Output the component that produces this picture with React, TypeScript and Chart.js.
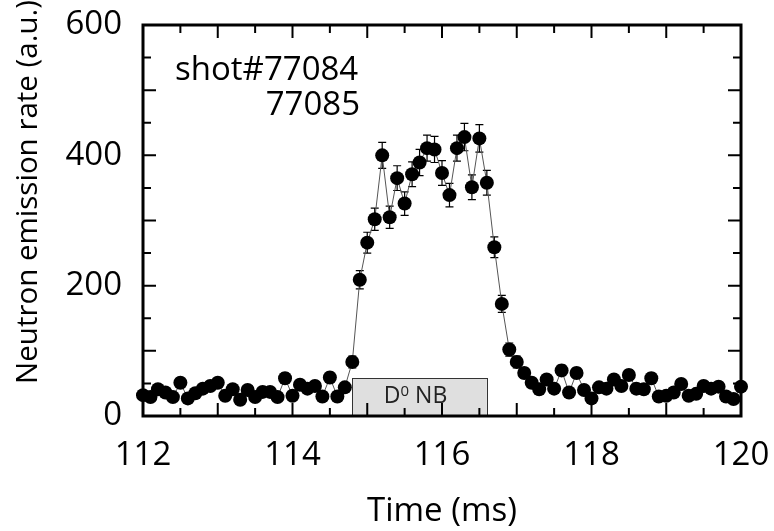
import React, { useEffect, useRef } from "react";
import { Chart, registerables } from "chart.js";

Chart.register(...registerables);

// ---- data ----
const times = [
  112.0, 112.1, 112.2, 112.3, 112.4, 112.5, 112.6, 112.7, 112.8, 112.9,
  113.0, 113.1, 113.2, 113.3, 113.4, 113.5, 113.6, 113.7, 113.8, 113.9,
  114.0, 114.1, 114.2, 114.3, 114.4, 114.5, 114.6, 114.7, 114.8, 114.9,
  115.0, 115.1, 115.2, 115.3, 115.4, 115.5, 115.6, 115.7, 115.8, 115.9,
  116.0, 116.1, 116.2, 116.3, 116.4, 116.5, 116.6, 116.7, 116.8, 116.9,
  117.0, 117.1, 117.2, 117.3, 117.4, 117.5, 117.6, 117.7, 117.8, 117.9,
  118.0, 118.1, 118.2, 118.3, 118.4, 118.5, 118.6, 118.7, 118.8, 118.9,
  119.0, 119.1, 119.2, 119.3, 119.4, 119.5, 119.6, 119.7, 119.8, 119.9,
  120.0,
];

const rates = [
  32, 29, 41, 36, 29, 51, 27, 35, 42, 46,
  51, 31, 41, 25, 40, 29, 37, 37, 29, 58,
  31, 48, 42, 46, 30, 59, 30, 44, 83, 209,
  266, 302, 400, 305, 365, 326, 371, 389, 411, 409,
  373, 339, 411, 428, 351, 426, 358, 259, 172, 102,
  83, 66, 51, 41, 56, 42, 70, 36, 66, 40,
  27, 44, 42, 56, 46, 63, 42, 41, 58, 30,
  31, 36, 49, 31, 34, 46, 42, 45, 30, 26,
  45,
];

const errors = [
  6, 5, 6, 6, 5, 7, 5, 6, 6, 7,
  7, 6, 6, 5, 6, 5, 6, 6, 5, 8,
  6, 7, 6, 7, 5, 8, 5, 7, 9, 14,
  16, 17, 20, 17, 19, 18, 19, 20, 20, 20,
  19, 18, 20, 21, 19, 21, 19, 16, 13, 10,
  9, 8, 7, 6, 7, 6, 8, 6, 8, 6,
  5, 7, 6, 7, 7, 8, 6, 6, 8, 5,
  6, 6, 7, 6, 6, 7, 6, 7, 5, 5,
  7,
];

const xTickValues = [112, 114, 116, 118, 120];
const yTickValues = [0, 200, 400, 600];
const shotLabels = ["shot#77084", "77085"];
const beamStart = 114.8;
const beamEnd = 116.6;
const beamLevel = 58;
const xTitle = "Time (ms)";
const yTitle = "Neutron emission rate (a.u.)";

const FONT = '"Open Sans", "DejaVu Sans", sans-serif';

const decorPlugin = {
  id: "decor",
  beforeDatasetsDraw(chart: any) {
    const { ctx, scales } = chart;
    const x = scales.x;
    const y = scales.y;
    ctx.save();
    // beam box
    const x0 = x.getPixelForValue(beamStart);
    const x1 = x.getPixelForValue(beamEnd);
    const y0 = y.getPixelForValue(0);
    const y1 = y.getPixelForValue(beamLevel);
    ctx.fillStyle = "#dfdfdf";
    ctx.fillRect(x0, y1, x1 - x0, y0 - y1);
    ctx.strokeStyle = "#333";
    ctx.lineWidth = 1;
    ctx.strokeRect(Math.round(x0) + 0.5, Math.round(y1) + 0.5, Math.round(x1 - x0), Math.round(y0 - y1));

    // "D0 NB" label with superscript
    const big = `23px ${FONT}`;
    const small = `15px ${FONT}`;
    ctx.fillStyle = "#222";
    ctx.textBaseline = "alphabetic";
    ctx.textAlign = "left";
    ctx.font = big;
    const wD = ctx.measureText("D").width;
    const wNB = ctx.measureText(" NB").width;
    ctx.font = small;
    const w0 = ctx.measureText("0").width;
    const total = wD + w0 + wNB;
    const cx = (x0 + x1) / 2 - 4;
    let sx = cx - total / 2;
    const base = y0 - 13;
    ctx.font = big;
    ctx.fillText("D", sx, base);
    sx += wD;
    ctx.font = small;
    ctx.fillText("0", sx, base - 7);
    sx += w0;
    ctx.font = big;
    ctx.fillText(" NB", sx, base);

    // error bars
    ctx.strokeStyle = "#000";
    ctx.lineWidth = 1.2;
    for (let i = 0; i < times.length; i++) {
      const px = x.getPixelForValue(times[i]);
      const yt = y.getPixelForValue(rates[i] + errors[i]);
      const yb = y.getPixelForValue(rates[i] - errors[i]);
      ctx.beginPath();
      ctx.moveTo(px, yt);
      ctx.lineTo(px, yb);
      ctx.moveTo(px - 4, yt);
      ctx.lineTo(px + 4, yt);
      ctx.moveTo(px - 4, yb);
      ctx.lineTo(px + 4, yb);
      ctx.stroke();
    }
    ctx.restore();
  },
  afterDatasetsDraw(chart: any) {
    const { ctx, chartArea: a, scales } = chart;
    const x = scales.x;
    const y = scales.y;
    ctx.save();
    ctx.strokeStyle = "#000";
    // ticks
    ctx.lineWidth = 2;
    ctx.beginPath();
    for (let v = x.min; v <= x.max + 1e-9; v += 0.5) {
      const px = x.getPixelForValue(v);
      const len = Math.abs(v - Math.round(v)) < 1e-6 ? 13 : 8;
      ctx.moveTo(px, a.bottom);
      ctx.lineTo(px, a.bottom - len);
      ctx.moveTo(px, a.top);
      ctx.lineTo(px, a.top + len);
    }
    for (let v = y.min; v <= y.max + 1e-9; v += 50) {
      const py = y.getPixelForValue(v);
      const len = v % 100 === 0 ? 13 : 8;
      ctx.moveTo(a.left, py);
      ctx.lineTo(a.left + len, py);
      ctx.moveTo(a.right, py);
      ctx.lineTo(a.right - len, py);
    }
    ctx.stroke();
    // frame
    ctx.lineWidth = 3;
    ctx.strokeRect(a.left, a.top, a.right - a.left, a.bottom - a.top);

    // shot labels
    ctx.fillStyle = "#000";
    ctx.font = `33px ${FONT}`;
    ctx.textBaseline = "alphabetic";
    ctx.textAlign = "left";
    ctx.fillText(shotLabels[0], a.left + 32, a.top + 55);
    ctx.textAlign = "right";
    ctx.fillText(shotLabels[1], a.left + 217, a.top + 90);

    // y title
    ctx.font = `29.5px ${FONT}`;
    ctx.textAlign = "center";
    ctx.textBaseline = "middle";
    ctx.translate(29, 192);
    ctx.rotate(-Math.PI / 2);
    ctx.fillText(yTitle, 0, 0);
    ctx.restore();
  },
};

export default function App() {
  const ref = useRef<HTMLCanvasElement | null>(null);

  useEffect(() => {
    if (!ref.current) return;
    const chart = new Chart(ref.current, {
      type: "line",
      data: {
        datasets: [
          {
            data: times.map((t, i) => ({ x: t, y: rates[i] })),
            borderColor: "#555",
            borderWidth: 1,
            pointRadius: 7,
            pointBorderWidth: 0,
            pointBackgroundColor: "#000",
            pointBorderColor: "#000",
            tension: 0,
            clip: false as any,
          },
        ],
      },
      options: {
        animation: false,
        responsive: true,
        maintainAspectRatio: false,
        layout: { padding: { top: 25, right: 33, left: 0, bottom: 0 } },
        plugins: {
          legend: { display: false },
          tooltip: { enabled: false },
        },
        scales: {
          x: {
            type: "linear",
            min: 112,
            max: 120,
            grid: { display: false, drawTicks: false },
            border: { display: false },
            afterBuildTicks: (s: any) => {
              s.ticks = xTickValues.map((v) => ({ value: v }));
            },
            afterFit: (s: any) => {
              s.height = 115;
              s.paddingLeft = 0;
              s.paddingRight = 0;
            },
            ticks: {
              autoSkip: false,
              maxRotation: 0,
              padding: 20,
              color: "#000",
              font: { family: FONT, size: 33 },
              callback: (v: any) => String(v),
            },
            title: {
              display: true,
              text: xTitle,
              color: "#000",
              font: { family: FONT, size: 33 },
              padding: { top: 0, bottom: 0 },
            },
          },
          y: {
            type: "linear",
            min: 0,
            max: 600,
            grid: { display: false, drawTicks: false },
            border: { display: false },
            afterBuildTicks: (s: any) => {
              s.ticks = yTickValues.map((v) => ({ value: v }));
            },
            afterFit: (s: any) => {
              s.width = 143;
              s.paddingTop = 0;
              s.paddingBottom = 0;
            },
            ticks: {
              autoSkip: false,
              padding: 21,
              color: "#000",
              font: { family: FONT, size: 33 },
              callback: (v: any) => String(v),
            },
          },
        },
      },
      plugins: [decorPlugin],
    });
    return () => chart.destroy();
  }, []);

  return (
    <div style={{ position: "absolute", left: 0, top: 0, width: 774, height: 531, background: "#fff" }}>
      <canvas ref={ref} />
    </div>
  );
}
